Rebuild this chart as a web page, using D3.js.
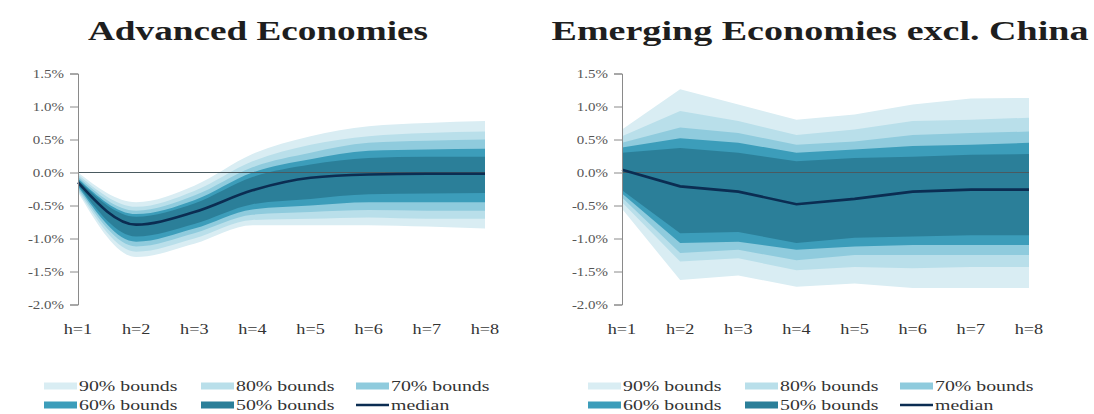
<!DOCTYPE html>
<html>
<head>
<meta charset="utf-8">
<script src="https://cdn.jsdelivr.net/npm/d3@7/dist/d3.min.js"></script>
<style>
  html, body { margin: 0; padding: 0; background: #fff; }
  svg { display: block; }
  text { font-family: "Liberation Serif", "Times New Roman", serif; }
</style>
</head>
<body>
<div id="chart"></div>
<script>
// horizons and ticks
const hLabels = ['h=1', 'h=2', 'h=3', 'h=4', 'h=5', 'h=6', 'h=7', 'h=8'];
const yTicks = [1.5, 1.0, 0.5, 0.0, -0.5, -1.0, -1.5, -2.0];
const bandNames = ['90% bounds', '80% bounds', '70% bounds', '60% bounds', '50% bounds'];

// Advanced Economies (in %), [lo, hi] per horizon
const advMedian = [-0.15, -0.79, -0.6, -0.27, -0.08, -0.03, -0.02, -0.02];
const adv90 = [[-0.3, 0.0], [-1.28, -0.45], [-1.08, -0.2], [-0.8, 0.28], [-0.8, 0.55], [-0.8, 0.7], [-0.82, 0.75], [-0.85, 0.78]];
const adv80 = [[-0.27, -0.03], [-1.2, -0.52], [-1.0, -0.28], [-0.72, 0.17], [-0.7, 0.42], [-0.68, 0.55], [-0.7, 0.6], [-0.7, 0.62]];
const adv70 = [[-0.24, -0.06], [-1.12, -0.58], [-0.92, -0.35], [-0.64, 0.08], [-0.6, 0.3], [-0.57, 0.45], [-0.58, 0.48], [-0.58, 0.5]];
const adv60 = [[-0.21, -0.09], [-1.05, -0.63], [-0.85, -0.42], [-0.56, 0.0], [-0.5, 0.2], [-0.45, 0.33], [-0.45, 0.35], [-0.45, 0.36]];
const adv50 = [[-0.19, -0.11], [-0.97, -0.67], [-0.78, -0.47], [-0.48, -0.07], [-0.4, 0.12], [-0.33, 0.22], [-0.32, 0.24], [-0.31, 0.24]];

// Emerging Economies excl. China (in %)
const emgMedian = [0.04, -0.21, -0.29, -0.48, -0.4, -0.29, -0.26, -0.26];
const emg90 = [[-0.55, 0.65], [-1.63, 1.26], [-1.56, 1.03], [-1.73, 0.8], [-1.68, 0.88], [-1.75, 1.03], [-1.75, 1.12], [-1.75, 1.13]];
const emg80 = [[-0.45, 0.55], [-1.35, 0.93], [-1.3, 0.78], [-1.48, 0.57], [-1.43, 0.65], [-1.45, 0.78], [-1.43, 0.8], [-1.43, 0.83]];
const emg70 = [[-0.38, 0.45], [-1.22, 0.68], [-1.17, 0.6], [-1.33, 0.42], [-1.25, 0.47], [-1.25, 0.57], [-1.25, 0.6], [-1.25, 0.62]];
const emg60 = [[-0.32, 0.38], [-1.07, 0.52], [-1.05, 0.45], [-1.17, 0.3], [-1.12, 0.35], [-1.1, 0.4], [-1.1, 0.42], [-1.1, 0.45]];
const emg50 = [[-0.27, 0.3], [-0.92, 0.37], [-0.9, 0.3], [-1.07, 0.17], [-0.99, 0.22], [-0.97, 0.24], [-0.95, 0.27], [-0.95, 0.28]];

const BAND_COLORS = ['#d9edf3', '#b9dfea', '#8fcbdd', '#3c9dba', '#2b7f99'];
const MEDIAN_COLOR = '#0b2d52';
const STRETCH = 1.3; // the source picture is widened horizontally

const W = 1094, H = 414;
const svg = d3.select('#chart').append('svg').attr('width', W).attr('height', H);

const panels = [
  { title: 'Advanced Economies', titleX: 258, titleW: 340, x0: 78, x1: 485,
    median: advMedian, bands: [adv90, adv80, adv70, adv60, adv50], curve: d3.curveMonotoneX },
  { title: 'Emerging Economies excl. China', titleX: 820, titleW: 537, x0: 622, x1: 1029,
    median: emgMedian, bands: [emg90, emg80, emg70, emg60, emg50], curve: d3.curveLinear }
];

function stretch(sel, k) {
  sel.each(function () {
    const len = this.getComputedTextLength();
    d3.select(this).attr('textLength', len * k).attr('lengthAdjust', 'spacingAndGlyphs');
  });
}

const y = d3.scaleLinear().domain([-2.0, 1.5]).range([304.5, 73.5]);

panels.forEach(p => {
  const g = svg.append('g');
  const x = d3.scalePoint().domain(hLabels).range([p.x0, p.x1]);

  // bands, widest first
  p.bands.forEach((band, i) => {
    const area = d3.area()
      .x((d, j) => x(hLabels[j]))
      .y0(d => y(d[0]))
      .y1(d => y(d[1]))
      .curve(p.curve);
    g.append('path').datum(band).attr('d', area).attr('fill', BAND_COLORS[i]);
  });

  // zero line
  g.append('line')
    .attr('x1', p.x0).attr('x2', p.x1)
    .attr('y1', y(0)).attr('y2', y(0))
    .attr('stroke', '#4a5a60').attr('stroke-width', 1.2);

  // median
  const line = d3.line().x((d, j) => x(hLabels[j])).y(d => y(d)).curve(p.curve);
  g.append('path').datum(p.median).attr('d', line)
    .attr('fill', 'none').attr('stroke', MEDIAN_COLOR).attr('stroke-width', 2.6);

  // y axis
  const yAxis = g.append('g')
    .attr('transform', `translate(${p.x0},0)`)
    .call(d3.axisLeft(y).tickValues(yTicks).tickSize(8).tickSizeOuter(8).tickPadding(6)
      .tickFormat(v => v.toFixed(1) + '%'));
  yAxis.selectAll('path, line').attr('stroke', '#8a8a8a');
  yAxis.selectAll('text')
    .attr('fill', '#555').style('font-size', '11.5px')
    .style('font-family', '"Liberation Serif", serif');
  stretch(yAxis.selectAll('text'), STRETCH);

  // horizon labels
  const xl = g.append('g').selectAll('text').data(hLabels).join('text')
    .attr('x', d => x(d)).attr('y', 334)
    .attr('text-anchor', 'middle')
    .attr('fill', '#333').style('font-size', '14px')
    .text(d => d);
  stretch(xl, STRETCH);

  // title
  g.append('text')
    .attr('x', p.titleX).attr('y', 40)
    .attr('text-anchor', 'middle')
    .attr('fill', '#1e1e1e')
    .style('font-size', '27px').style('font-weight', 'bold')
    .attr('textLength', p.titleW).attr('lengthAdjust', 'spacingAndGlyphs')
    .text(p.title);

  // legend
  const items = bandNames.map((n, i) => ({ name: n, color: BAND_COLORS[i], type: 'band' }))
    .concat([{ name: 'median', color: MEDIAN_COLOR, type: 'line' }]);
  const colX = [-34, 123, 278];
  const rowY = [386, 405];
  const lg = g.append('g');
  items.forEach((it, i) => {
    const lx = p.x0 + colX[i % 3];
    const ly = rowY[Math.floor(i / 3)];
    if (it.type === 'band') {
      lg.append('rect').attr('x', lx).attr('y', ly - 3.5).attr('width', 33).attr('height', 7)
        .attr('fill', it.color);
    } else {
      lg.append('line').attr('x1', lx).attr('x2', lx + 33).attr('y1', ly).attr('y2', ly)
        .attr('stroke', it.color).attr('stroke-width', 2.6);
    }
    const t = lg.append('text')
      .attr('x', lx + 35).attr('y', ly + 5)
      .attr('fill', '#333').style('font-size', '15px')
      .text(it.name);
    stretch(t, 1.32);
  });
});
</script>
</body>
</html>
